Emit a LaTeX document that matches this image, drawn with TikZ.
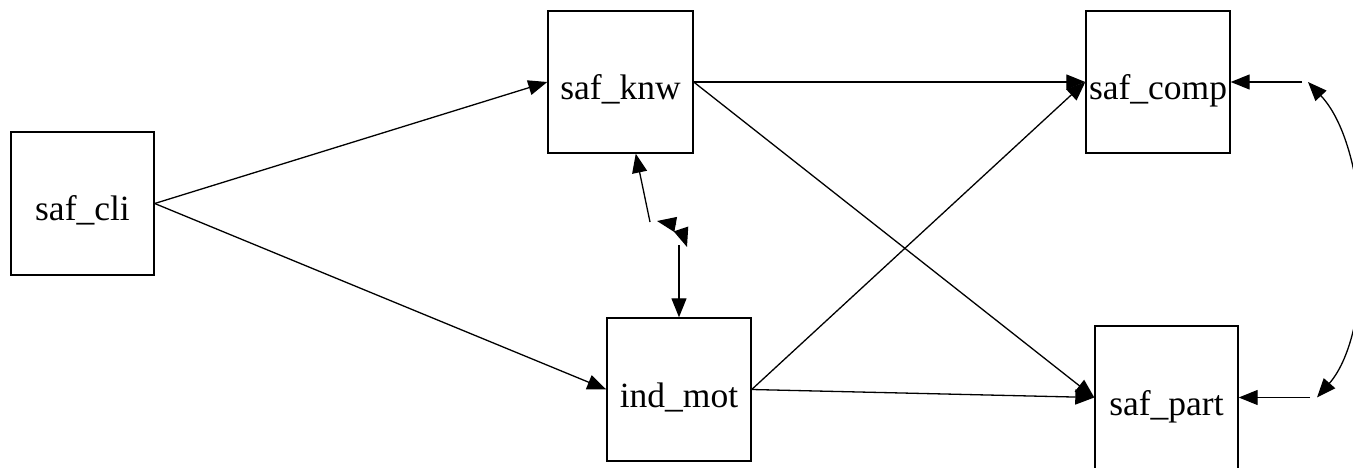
\documentclass[tikz,border=0pt]{standalone}
\usepackage{fontspec}
\setmainfont{Liberation Serif}
\usetikzlibrary{arrows.meta}
\tikzset{
  varbox/.style={draw,rectangle,line width=1.4pt,inner sep=0pt,minimum width=144pt,minimum height=143pt,
    text height=35pt,text depth=0pt,font=\fontsize{35.5}{42}\selectfont},
  arr/.style={-{Triangle[length=19pt,width=15pt]},line width=1.3pt},
  dblarr/.style={{Triangle[length=19pt,width=15pt]}-{Triangle[length=19pt,width=15pt]},line width=1.3pt}
}
\begin{document}
\begin{tikzpicture}[x=1pt,y=-1pt]
\useasboundingbox (0,0) rectangle (1353,468);
\node[varbox,minimum width=143pt] (cli) at (82.5,203.5) {saf\_cli};
\node[varbox,minimum width=145pt,minimum height=142pt] (knw) at (620.5,82) {saf\_knw};
\node[varbox,minimum height=142pt] (comp) at (1158,82) {saf\_comp};
\node[varbox] (ind) at (679,389.5) {ind\_mot};
\node[varbox,minimum width=143pt] (part) at (1166.5,397.5) {saf\_part};
% regressions
\draw[arr] (cli.east) -- (knw.west);
\draw[arr] (cli.east) -- (ind.west);
\draw[arr] (knw.east) -- (comp.west);
\draw[arr] (knw.east) -- (part.west);
\draw[arr] (ind.east) -- (comp.west);
\draw[arr] (ind.east) -- (part.west);
% covariance saf_knw / ind_mot
\coordinate (ka) at (650,222);
\coordinate (kb) at (679,245);
\coordinate (h1a) at (676,224.5);
\coordinate (h1b) at (657,221);
\coordinate (h2a) at (681,229);
\coordinate (h2b) at (687,247);
\draw[arr] (ka) -- (knw.-78.5);
\draw[arr] (h1a) -- (h1b);
\draw[arr] (h2a) -- (h2b);
\draw[arr] (kb) -- (ind.north);
% covariance saf_comp / saf_part
\coordinate (cu) at (1308,82);
\coordinate (cl) at (1317,397.5);
\draw[arr,shorten <=6pt] (cu) -- (comp.east);
\draw[arr,shorten <=7pt] (cl) -- (part.east);
\draw[dblarr] (cu) .. controls (1372,150) and (1376,330) .. (cl);
\end{tikzpicture}
\end{document}
